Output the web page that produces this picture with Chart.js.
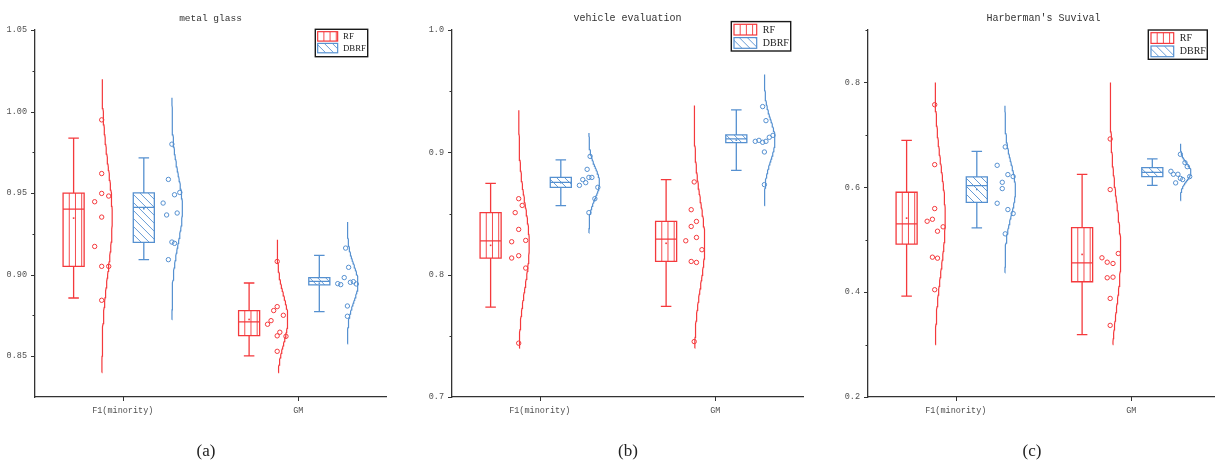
<!DOCTYPE html>
<html>
<head>
<meta charset="utf-8">
<script src="https://cdn.jsdelivr.net/npm/chart.js@4.4.1/dist/chart.umd.min.js"></script>
<style>
html,body{margin:0;padding:0;background:#fff;overflow:hidden;}
#wrap{position:relative;width:1215px;height:461px;overflow:hidden;background:#fff;}
#wrap canvas{position:absolute;top:0;}
</style>
</head>
<body>
<div id="wrap">
<canvas id="c0" width="417" height="461" style="left:0px"></canvas>
<canvas id="c1" width="417" height="461" style="left:417px"></canvas>
<canvas id="c2" width="417" height="461" style="left:833px"></canvas>
</div>
<script>
// ---------- categories / labels ----------
const categories = ['F1(minority)', 'GM'];
const seriesNames = ['RF', 'DBRF'];
const panelTitles = ['metal glass', 'vehicle evaluation', "Harberman's Suvival"];
const panelCaptions = ['(a)', '(b)', '(c)'];

// ---------- y axes ----------
const metalYRange = [0.825, 1.05];
const metalYTicks = [0.85, 0.90, 0.95, 1.00, 1.05];
const metalYLabels = ['0.85', '0.90', '0.95', '1.00', '1.05'];
const metalYMinor = [0.875, 0.925, 0.975, 1.025];
const vehicleYRange = [0.7, 1.0];
const vehicleYTicks = [0.7, 0.8, 0.9, 1.0];
const vehicleYLabels = ['0.7', '0.8', '0.9', '1.0'];
const vehicleYMinor = [0.75, 0.85, 0.95];
const haberYRange = [0.2, 0.9];
const haberYTicks = [0.2, 0.4, 0.6, 0.8];
const haberYLabels = ['0.2', '0.4', '0.6', '0.8'];
const haberYMinor = [0.3, 0.5, 0.7, 0.9];

// ---------- (a) metal glass ----------
const metalRfF1 = [0.9949, 0.9620, 0.9498, 0.9482, 0.9447, 0.9353, 0.9173, 0.9051, 0.9051, 0.8843];
const metalRfGM = [0.9081, 0.8804, 0.8780, 0.8718, 0.8696, 0.8751, 0.8647, 0.8625, 0.8622, 0.8530];
const metalDbrfF1 = [0.9800, 0.9584, 0.9490, 0.9504, 0.9439, 0.9366, 0.9378, 0.9200, 0.9192, 0.9092];
const metalDbrfGM = [0.9163, 0.9045, 0.8982, 0.8945, 0.8939, 0.8953, 0.8957, 0.8943, 0.8808, 0.8745];
// box stats: [lower whisker, Q1, median, Q3, upper whisker]
const metalRfBox = [[0.8857, 0.9051, 0.9402, 0.9500, 0.9837], [0.8502, 0.8626, 0.8710, 0.8780, 0.8949]];
const metalDbrfBox = [[0.9092, 0.9198, 0.9412, 0.9502, 0.9716], [0.8774, 0.8937, 0.8959, 0.8982, 0.9118]];
// distribution curve extent [low, high]
const metalRfCurve = [[0.840, 1.0198], [0.840, 0.9214]];
const metalDbrfCurve = [[0.8724, 1.0084], [0.8576, 0.9323]];

// ---------- (b) vehicle evaluation ----------
const vehicleRfF1 = [0.8621, 0.8566, 0.8507, 0.8370, 0.8269, 0.8280, 0.8155, 0.8136, 0.8054, 0.7440];
const vehicleRfGM = [0.8758, 0.8531, 0.8435, 0.8394, 0.8304, 0.8277, 0.8204, 0.8108, 0.8100, 0.7453];
const vehicleDbrfF1 = [0.8967, 0.8861, 0.8777, 0.8752, 0.8730, 0.8795, 0.8795, 0.8714, 0.8621, 0.8507];
const vehicleDbrfGM = [0.9374, 0.9259, 0.9139, 0.9123, 0.9090, 0.9098, 0.9082, 0.9090, 0.9003, 0.8736];
const vehicleRfBox = [[0.7735, 0.8136, 0.8277, 0.8507, 0.8746], [0.7740, 0.8108, 0.8291, 0.8436, 0.8777]];
const vehicleDbrfBox = [[0.8564, 0.8714, 0.8755, 0.8795, 0.8938], [0.8853, 0.9079, 0.9110, 0.9142, 0.9347]];
const vehicleRfCurve = [[0.740, 0.9344], [0.740, 0.9382]];
const vehicleDbrfCurve = [[0.834, 0.9159], [0.8564, 0.9636]];

// ---------- (c) Harberman's Suvival ----------
const haberRfF1 = [0.7575, 0.6432, 0.5594, 0.5390, 0.5352, 0.5246, 0.5162, 0.4667, 0.4648, 0.4046];
const haberRfGM = [0.6922, 0.5956, 0.4737, 0.4655, 0.4571, 0.4547, 0.4274, 0.4286, 0.3880, 0.3366];
const haberDbrfF1 = [0.6770, 0.6419, 0.6242, 0.6204, 0.6095, 0.5975, 0.5695, 0.5575, 0.5499, 0.5112];
const haberDbrfGM = [0.6629, 0.6470, 0.6394, 0.6305, 0.6248, 0.6248, 0.6171, 0.6147, 0.6204, 0.6084];
const haberRfBox = [[0.3924, 0.4914, 0.5303, 0.5905, 0.6895], [0.3188, 0.4198, 0.4560, 0.5232, 0.6248]];
const haberDbrfBox = [[0.5227, 0.5714, 0.6032, 0.6198, 0.6686], [0.6038, 0.6204, 0.6286, 0.6375, 0.6541]];
const haberRfCurve = [[0.3, 0.8], [0.3, 0.8]];
const haberDbrfCurve = [[0.4369, 0.7556], [0.5747, 0.6832]];

// ---------- horizontal jitter of the scatter points (layout, category units) ----------
const metalRfJitter = [[0, 0, 0, 0.04, -0.04, 0, -0.04, 0, 0.04, 0], [0, 0, -0.02, -0.035, -0.055, 0.035, 0.015, 0, 0.05, 0]];
const metalDbrfJitter = [[0, -0.02, 0.015, 0.045, -0.05, -0.03, 0.03, 0, 0.015, -0.02], [-0.01, 0.007, -0.018, -0.055, -0.038, 0.017, 0.034, 0.051, 0, 0]];
const vehicleRfJitter = [[0, 0.02, -0.02, 0, -0.04, 0.04, 0, -0.04, 0.04, 0], [0, -0.017, 0.013, -0.017, 0.013, -0.048, 0.044, -0.017, 0.013, 0]];
const vehicleDbrfJitter = [[0.007, -0.01, -0.035, -0.018, -0.054, 0, 0.017, 0.051, 0.034, 0], [-0.01, 0.009, 0.049, 0.028, -0.052, -0.031, -0.01, 0.009, 0, 0]];
const haberRfJitter = [[0, 0, 0, -0.013, -0.043, 0.048, 0.016, -0.013, 0.016, 0], [0, 0, 0.046, -0.047, -0.017, 0.016, -0.017, 0.016, 0, 0]];
const haberDbrfJitter = [[0.002, -0.044, 0.017, 0.047, -0.015, -0.015, -0.044, 0.017, 0.047, 0.002], [0, 0.026, 0.039, -0.054, -0.04, -0.014, 0, 0.013, 0.053, -0.027]];

// ---------- styling / layout ----------
const RF_COLOR = '#F4393C';
const DBRF_COLOR = '#5590D0';
const AXIS_COLOR = '#333333';
const TICK_TEXT = '#505050';
const boxOffset = [-0.28, 0.12];
const curveOffset = [-0.12, 0.28];
const boxHalf = 0.06, capHalf = 0.03, curvePeak = 0.06;

function meanOf(a) { return a.reduce((s, v) => s + v, 0) / a.length; }
function sdOf(a) { const m = meanOf(a); return Math.sqrt(a.reduce((s, v) => s + (v - m) * (v - m), 0) / (a.length - 1)); }

// normal distribution curve fitted to the data of one group
function curvePoints(vals, range, base) {
  const m = meanOf(vals), sd = sdOf(vals);
  const pts = [];
  const steps = 90;
  for (let i = 0; i <= steps; i++) {
    const y = range[0] + (range[1] - range[0]) * i / steps;
    const z = (y - m) / sd;
    pts.push({ x: base + curvePeak * Math.exp(-0.5 * z * z), y: y });
  }
  return pts;
}

function mkSeries(name, color, hatch, values, box, curve, jitter) {
  return { name, color, hatch, values, box, curve, jitter };
}

const panels = [
  {
    title: panelTitles[0], caption: panelCaptions[0], titleSize: 9.5, captionX: 206,
    yRange: metalYRange, yTicks: metalYTicks, yLabels: metalYLabels, yMinor: metalYMinor,
    series: [
      mkSeries(seriesNames[0], RF_COLOR, 'v', [metalRfF1, metalRfGM], metalRfBox, metalRfCurve, metalRfJitter),
      mkSeries(seriesNames[1], DBRF_COLOR, 'd', [metalDbrfF1, metalDbrfGM], metalDbrfBox, metalDbrfCurve, metalDbrfJitter)
    ],
    legend: { dx: -70.7, dy: -0.7, w: 52.4, h: 27.4, s: 0.88 }
  },
  {
    title: panelTitles[1], caption: panelCaptions[1], titleSize: 10, captionX: 211,
    yRange: vehicleYRange, yTicks: vehicleYTicks, yLabels: vehicleYLabels, yMinor: vehicleYMinor,
    series: [
      mkSeries(seriesNames[0], RF_COLOR, 'v', [vehicleRfF1, vehicleRfGM], vehicleRfBox, vehicleRfCurve, vehicleRfJitter),
      mkSeries(seriesNames[1], DBRF_COLOR, 'd', [vehicleDbrfF1, vehicleDbrfGM], vehicleDbrfBox, vehicleDbrfCurve, vehicleDbrfJitter)
    ],
    legend: { dx: -71.7, dy: -8.4, w: 59.4, h: 29.4, s: 1 }
  },
  {
    title: panelTitles[2], caption: panelCaptions[2], titleSize: 10, captionX: 199,
    yRange: haberYRange, yTicks: haberYTicks, yLabels: haberYLabels, yMinor: haberYMinor,
    series: [
      mkSeries(seriesNames[0], RF_COLOR, 'v', [haberRfF1, haberRfGM], haberRfBox, haberRfCurve, haberRfJitter),
      mkSeries(seriesNames[1], DBRF_COLOR, 'd', [haberDbrfF1, haberDbrfGM], haberDbrfBox, haberDbrfCurve, haberDbrfJitter)
    ],
    legend: { dx: -70.7, dy: 0, w: 59, h: 29.3, s: 1 }
  }
];

function hatchRect(ctx, x0, y0, w, h, kind, color) {
  ctx.save();
  ctx.beginPath(); ctx.rect(x0, y0, w, h); ctx.clip();
  ctx.strokeStyle = color; ctx.lineWidth = 1; ctx.globalAlpha = 0.9;
  ctx.beginPath();
  if (kind === 'v') {
    for (let x = x0 + 6.2; x < x0 + w - 1; x += 6.2) { ctx.moveTo(x, y0); ctx.lineTo(x, y0 + h); }
  } else {
    for (let k = -h; k < w; k += 8) { ctx.moveTo(x0 + k, y0); ctx.lineTo(x0 + k + h, y0 + h); }
  }
  ctx.stroke();
  ctx.restore();
}

function makePlugin(p, idx) {
  return {
    id: 'boxviolin' + idx,
    beforeDatasetsDraw(chart) {
      const xs = chart.scales.x, ys = chart.scales.y, ctx = chart.ctx;
      ctx.save();
      p.series.forEach((s, si) => {
        s.box.forEach((st, ci) => {
          const c = ci + boxOffset[si];
          const x0 = xs.getPixelForValue(c - boxHalf), x1 = xs.getPixelForValue(c + boxHalf);
          const xc = xs.getPixelForValue(c);
          const k0 = xs.getPixelForValue(c - capHalf), k1 = xs.getPixelForValue(c + capHalf);
          const lo = ys.getPixelForValue(st[0]), q1 = ys.getPixelForValue(st[1]);
          const med = ys.getPixelForValue(st[2]), q3 = ys.getPixelForValue(st[3]);
          const hi = ys.getPixelForValue(st[4]);
          hatchRect(ctx, x0, q3, x1 - x0, q1 - q3, s.hatch, s.color);
          ctx.strokeStyle = s.color; ctx.lineWidth = 1.3;
          ctx.beginPath();
          ctx.rect(x0, q3, x1 - x0, q1 - q3);
          ctx.moveTo(x0, med); ctx.lineTo(x1, med);
          ctx.moveTo(xc, q3); ctx.lineTo(xc, hi);
          ctx.moveTo(xc, q1); ctx.lineTo(xc, lo);
          ctx.moveTo(k0, hi); ctx.lineTo(k1, hi);
          ctx.moveTo(k0, lo); ctx.lineTo(k1, lo);
          ctx.stroke();
          // mean marker
          const my = ys.getPixelForValue(meanOf(s.values[ci]));
          ctx.fillStyle = s.color;
          ctx.fillRect(xc - 0.8, my - 0.8, 1.6, 1.6);
        });
      });
      ctx.restore();
    },
    afterDraw(chart) {
      const ctx = chart.ctx, ca = chart.chartArea;
      const xs = chart.scales.x, ys = chart.scales.y;
      ctx.save();
      // tick marks
      ctx.strokeStyle = AXIS_COLOR; ctx.lineWidth = 1;
      ctx.beginPath();
      p.yTicks.forEach(v => { const py = Math.round(ys.getPixelForValue(v)) + 0.5; ctx.moveTo(ca.left - 4, py); ctx.lineTo(ca.left, py); });
      p.yMinor.forEach(v => { const py = Math.round(ys.getPixelForValue(v)) + 0.5; ctx.moveTo(ca.left - 2.5, py); ctx.lineTo(ca.left, py); });
      categories.forEach((c, i) => { const px = Math.round(xs.getPixelForValue(i)) + 0.5; ctx.moveTo(px, ca.bottom); ctx.lineTo(px, ca.bottom + 4); });
      ctx.stroke();
      // title
      ctx.fillStyle = '#333333';
      ctx.font = p.titleSize + 'px "Liberation Mono"';
      ctx.textAlign = 'center'; ctx.textBaseline = 'middle';
      ctx.fillText(p.title, (ca.left + ca.right) / 2, 18);
      // caption
      ctx.fillStyle = '#222222';
      ctx.font = '17px "Liberation Serif"';
      ctx.fillText(p.caption, p.captionX, 452);
      // legend
      const L = p.legend, s = L.s;
      const lx = ca.right + L.dx, ly = ca.top + L.dy;
      ctx.fillStyle = '#ffffff';
      ctx.fillRect(lx, ly, L.w, L.h);
      ctx.strokeStyle = '#1a1a1a'; ctx.lineWidth = 1.4;
      ctx.strokeRect(lx, ly, L.w, L.h);
      p.series.forEach((ser, si) => {
        const sx = lx + 2.7 * s, sy = ly + (2.7 + 13.3 * si) * s;
        const sw = 22.7 * s, sh = 10.7 * s;
        hatchRect(ctx, sx, sy, sw, sh, ser.hatch, ser.color);
        ctx.strokeStyle = ser.color; ctx.lineWidth = 1.2;
        ctx.strokeRect(sx, sy, sw, sh);
        ctx.fillStyle = '#222222';
        ctx.font = (10 * s) + 'px "Liberation Serif"';
        ctx.textAlign = 'left'; ctx.textBaseline = 'middle';
        ctx.fillText(ser.name, lx + 31.5 * s, sy + sh / 2 + 0.5);
      });
      ctx.restore();
    }
  };
}

panels.forEach((p, pi) => {
  const datasets = [];
  p.series.forEach((s, si) => {
    const pts = [];
    s.values.forEach((vals, ci) => vals.forEach((v, k) => pts.push({ x: ci + curveOffset[si] + s.jitter[ci][k], y: v })));
    datasets.push({
      label: s.name, data: pts, order: 0, showLine: false,
      pointRadius: 2.2, pointBorderWidth: 1, pointBorderColor: s.color,
      pointBackgroundColor: 'rgba(0,0,0,0)', borderColor: s.color
    });
  });
  p.series.forEach((s, si) => {
    s.values.forEach((vals, ci) => {
      datasets.push({
        label: s.name + ' distribution', data: curvePoints(vals, s.curve[ci], ci + curveOffset[si]),
        order: 1, showLine: true, borderColor: s.color, borderWidth: 1.2,
        pointRadius: 0, fill: false, tension: 0
      });
    });
  });
  const tickFont = { family: 'Liberation Mono', size: 8.5 };
  new Chart(document.getElementById('c' + pi), {
    type: 'scatter',
    data: { datasets },
    options: {
      responsive: false, animation: false, events: [],
      layout: { padding: { left: 0, right: 31, top: 30, bottom: 40 } },
      plugins: { legend: { display: false }, tooltip: { enabled: false }, title: { display: false } },
      scales: {
        x: {
          type: 'linear', min: -0.5, max: 1.5,
          afterBuildTicks: (sc) => { sc.ticks = categories.map((c, i) => ({ value: i })); },
          afterFit: (sc) => { sc.height = 24; },
          ticks: {
            autoSkip: false, maxRotation: 0, minRotation: 0, padding: 9,
            color: TICK_TEXT, font: tickFont,
            callback: (v) => { const i = Math.round(v); return categories[i] !== undefined ? categories[i] : ''; }
          },
          grid: { display: true, drawOnChartArea: false, drawTicks: false },
          border: { display: true, color: AXIS_COLOR, width: 1.3 }
        },
        y: {
          type: 'linear', min: p.yRange[0], max: p.yRange[1],
          afterBuildTicks: (sc) => {
            sc.ticks = p.yTicks.concat(p.yMinor).sort((a, b) => a - b).map(v => ({ value: v }));
          },
          afterFit: (sc) => { sc.width = 35; },
          ticks: {
            autoSkip: false, padding: 8, color: TICK_TEXT, font: tickFont,
            callback: (v) => { const i = p.yTicks.findIndex(t => Math.abs(t - v) < 1e-9); return i >= 0 ? p.yLabels[i] : ''; }
          },
          grid: { display: true, drawOnChartArea: false, drawTicks: false },
          border: { display: true, color: AXIS_COLOR, width: 1.3 }
        }
      }
    },
    plugins: [makePlugin(p, pi)]
  });
});
</script>
</body>
</html>
